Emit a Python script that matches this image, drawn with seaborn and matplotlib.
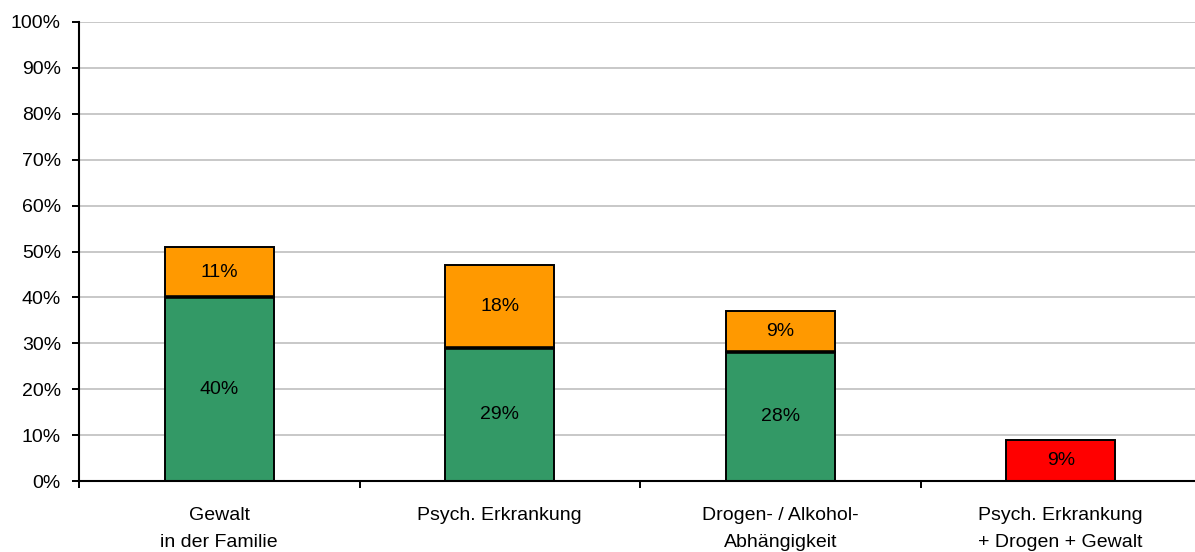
import matplotlib
matplotlib.use("Agg")
import matplotlib.pyplot as plt
import seaborn as sns
import pandas as pd

categories = ["Gewalt\nin der Familie", "Psych. Erkrankung",
              "Drogen- / Alkohol-\nAbhängigkeit",
              "Psych. Erkrankung\n+ Drogen + Gewalt"]
base_values = [40, 29, 28]          # green segment (first three groups)
upper_values = [11, 18, 9, 9]       # orange segment / red single bar
upper_colors = ["#FF9900", "#FF9900", "#FF9900", "#FF0000"]
base_color = "#339966"
y_ticks = list(range(0, 101, 10))
y_tick_labels = [f"{v}%" for v in y_ticks]

sns.set_theme(style="white")
plt.rcParams["font.family"] = ["Liberation Sans", "DejaVu Sans"]
plt.rcParams["text.color"] = "black"
plt.rcParams["xtick.color"] = "black"
plt.rcParams["ytick.color"] = "black"

fig = plt.figure(figsize=(11.95, 5.52), dpi=100)
ax = fig.add_axes([79 / 1195, 71 / 552, (1201 - 79) / 1195, (481 - 22) / 552])

bar_w = 0.39
edge_kw = dict(edgecolor="black", linewidth=1.4)

base_df = pd.DataFrame({"cat": categories[:len(base_values)], "val": base_values})
upper_df = pd.DataFrame({"cat": categories, "val": upper_values})

sns.barplot(data=base_df, x="cat", y="val", order=categories, hue="cat",
            palette=[base_color] * len(base_values), legend=False, saturation=1,
            width=bar_w, ax=ax, zorder=3, **edge_kw)
base_patches = sorted([p for p in ax.patches if p.get_height() > 0],
                      key=lambda p: p.get_x())
n_base = len(ax.patches)

sns.barplot(data=upper_df, x="cat", y="val", order=categories, hue="cat",
            hue_order=categories, palette=upper_colors, legend=False, saturation=1,
            width=bar_w, ax=ax, zorder=3, **edge_kw)

bottoms = base_values + [0] * (len(categories) - len(base_values))
upper_patches = [p for p in ax.patches[n_base:] if p.get_height() > 0]
upper_patches.sort(key=lambda p: p.get_x())
for p, b in zip(upper_patches, bottoms):
    p.set_y(b)

# heavier divider where the two stacked segments meet
for p in base_patches:
    ax.plot([p.get_x(), p.get_x() + p.get_width()], [p.get_height()] * 2,
            color="black", linewidth=2.6, solid_capstyle="butt", zorder=3.5)

# value labels in the middle of each segment
for i, v in enumerate(base_values):
    ax.text(i, v / 2, f"{v}%", ha="center", va="center", fontsize=14, zorder=4)
for i, (v, b) in enumerate(zip(upper_values, bottoms)):
    ax.text(i, b + v / 2, f"{v}%", ha="center", va="center", fontsize=14, zorder=4)

ax.set_xlim(-0.5, len(categories) - 0.5)
ax.set_ylim(0, 100)
ax.set_yticks(y_ticks)
ax.set_yticklabels(y_tick_labels, fontsize=14)
ax.set_xticks(range(len(categories)))
ax.set_xticklabels(categories, fontsize=14, linespacing=1.75)
ax.set_xticks([i + 0.5 for i in range(len(categories) - 1)] + [-0.5], minor=True)
ax.tick_params(axis="x", which="major", length=0, pad=19)
ax.tick_params(axis="x", which="minor", length=5, width=1.4, color="black",
               direction="out", bottom=True)
ax.tick_params(axis="y", length=5, width=1.4, color="black", direction="out",
               left=True, pad=8)
ax.set_xlabel("")
ax.set_ylabel("")

ax.yaxis.grid(True, color="#c4c4c4", linewidth=1.3, zorder=0)
ax.set_axisbelow(True)
for side in ("top", "right"):
    ax.spines[side].set_visible(False)
for side in ("left", "bottom"):
    ax.spines[side].set_color("black")
    ax.spines[side].set_linewidth(1.5)
    ax.spines[side].set_zorder(5)

fig.savefig("out.png", dpi=100)
